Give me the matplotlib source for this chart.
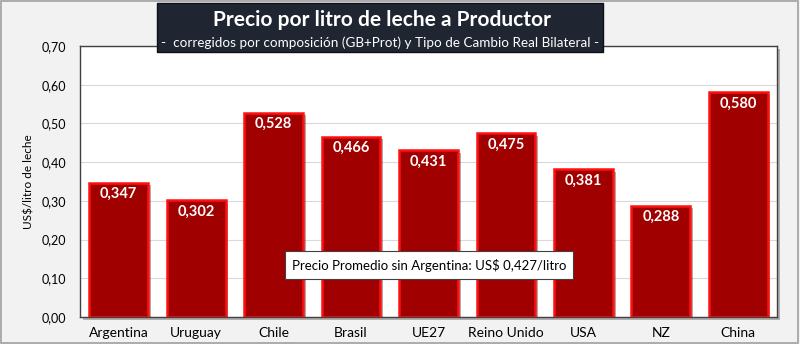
import matplotlib
matplotlib.use('Agg')
import matplotlib.pyplot as plt
import matplotlib.patheffects as pe
from matplotlib.patches import Rectangle

plt.rcParams['font.family'] = ['Lato', 'DejaVu Sans']

paises = ['Argentina', 'Uruguay', 'Chile', 'Brasil', 'UE27', 'Reino Unido', 'USA', 'NZ', 'China']
precios = [0.347, 0.302, 0.528, 0.466, 0.431, 0.475, 0.381, 0.288, 0.580]
yticks = [0.0, 0.1, 0.2, 0.3, 0.4, 0.5, 0.6, 0.7]

W, H = 800, 344
fig = plt.figure(figsize=(8, 3.44), dpi=100, facecolor='#f2f2f2')
# borde exterior
fig.patches.append(Rectangle((0.001, 0.002), 0.997, 0.995, transform=fig.transFigure,
                             fill=False, edgecolor='#a0a0a0', lw=1.2))

ax = fig.add_axes([80 / W, 27 / H, 697 / W, 271 / H])
ax.set_facecolor('white')
ax.patch.set_path_effects([pe.SimplePatchShadow(offset=(2, -2), alpha=0.4), pe.Normal()])

x = range(len(paises))
bars = ax.bar(x, precios, width=0.76, color='#a00000', edgecolor='#ff1010', lw=1.8, zorder=3)
for b in bars:
    b.set_path_effects([pe.SimplePatchShadow(offset=(2, -2), alpha=0.35), pe.Normal()])

for xi, v in zip(x, precios):
    ax.text(xi, v - 0.03, f'{v:.3f}'.replace('.', ','), ha='center', va='center',
            color='white', fontsize=10.5, fontweight='bold', zorder=4)

ax.set_ylim(0, 0.7)
ax.set_xlim(-0.5, len(paises) - 0.5)
ax.set_yticks(yticks)
ax.set_yticklabels([f'{t:.2f}'.replace('.', ',') for t in yticks], fontsize=9)
ax.set_xticks(list(x))
ax.set_xticklabels(paises, fontsize=10)
ax.tick_params(axis='x', length=0, pad=7)
ax.tick_params(axis='y', length=0, pad=10)
ax.grid(axis='y', color='#d9d9d9', lw=0.8, zorder=0)
for s in ax.spines.values():
    s.set_color('#404040')
    s.set_linewidth(1.0)
ax.set_ylabel('US$/litro de leche', fontsize=8.5, labelpad=5)

# recuadro del titulo
fig.patches.append(Rectangle((157 / W, 1 - 52 / H), 446 / W, 49 / H, transform=fig.transFigure,
                             facecolor='#1f2631', edgecolor='#0d1117', lw=1, zorder=5))
fig.text(382 / W, 1 - 20 / H, 'Precio por litro de leche a Productor', ha='center', va='center',
         color='white', fontsize=15, fontweight='bold', zorder=6)
fig.text(380 / W, 1 - 43 / H,
         '-  corregidos por composición (GB+Prot) y Tipo de Cambio Real Bilateral -',
         ha='center', va='center', color='white', fontsize=9.7, zorder=6)

# nota del promedio
fig.text(429 / W, 1 - 265 / H, 'Precio Promedio sin Argentina: US$ 0,427/litro',
         ha='center', va='center', fontsize=9.5, color='black', zorder=7,
         bbox=dict(boxstyle='square,pad=0.55', facecolor='white', edgecolor='#404040', lw=0.8))

fig.savefig('out.png', dpi=100, facecolor=fig.get_facecolor())
